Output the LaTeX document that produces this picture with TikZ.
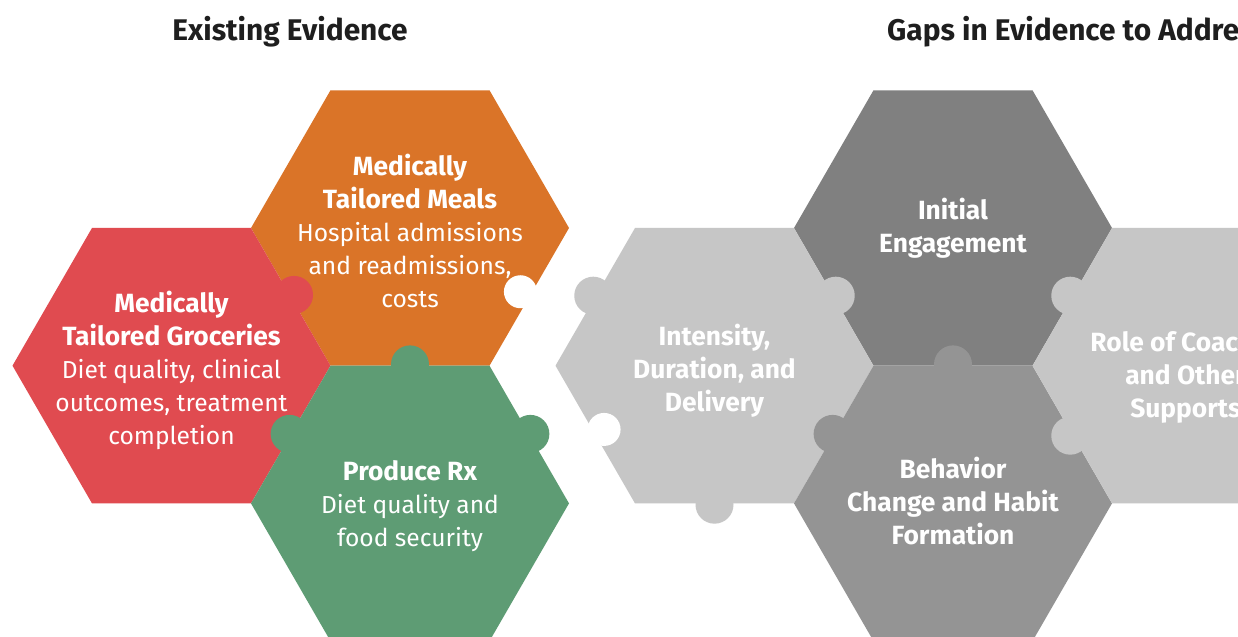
\documentclass[tikz,border=0pt]{standalone}
\usepackage{fontspec}
\setmainfont{Fira Sans}
\usepackage{tikz}
\usetikzlibrary{shapes.geometric, calc}

\definecolor{mealsorange}{HTML}{DA7428}
\definecolor{groceryred}{HTML}{E04B50}
\definecolor{producegreen}{HTML}{5E9C74}
\definecolor{gapdark}{HTML}{808080}
\definecolor{gapmid}{HTML}{949494}
\definecolor{gaplight}{HTML}{C6C6C6}
\definecolor{titleblack}{HTML}{1E1E1E}

\newcommand{\hexhead}[1]{{\fontsize{15}{18.8}\selectfont\bfseries #1}}

\tikzstyle{hexa} = [regular polygon, regular polygon sides=6, minimum size=6.36cm, inner sep=0pt, outer sep=0pt, draw=none]
\tikzstyle{hextext} = [text=white, align=center, font=\fontsize{14}{18.8}\selectfont]
\tikzstyle{gaptext} = [text=white, align=center, font=\fontsize{15}{18.8}\selectfont\bfseries]
\tikzstyle{title} = [text=titleblack, font=\fontsize{17}{20}\selectfont\bfseries]
\tikzstyle{knob} = [circle, minimum size=0.76cm, inner sep=0pt, outer sep=0pt, draw=none]
\tikzstyle{hole} = [circle, minimum size=0.66cm, inner sep=0pt, outer sep=0pt, draw=none, fill=white]

\begin{document}
\begin{tikzpicture}
			\path[use as bounding box, fill=white] (0,0) rectangle (24.76,12.74);

			\node(existtitle)[title] at (5.8,12.1) {Existing Evidence};
			\node(gapstitle)[title, anchor=west] at (17.62,12.1) {Gaps in Evidence to Address};

			% existing evidence
			\node(meals)[hexa, fill=mealsorange] at (8.2,8.18) {};
			\node(groceries)[hexa, fill=groceryred] at ($(meals.center)+(210:5.508)$) {};
			\node(produce)[hexa, fill=producegreen] at ($(meals.center)+(270:5.508)$) {};

			% gaps in evidence
			\node(engage)[hexa, fill=gapdark] at (19.06,8.18) {};
			\node(intensity)[hexa, fill=gaplight] at ($(engage.center)+(210:5.508)$) {};
			\node(behavior)[hexa, fill=gapmid] at ($(engage.center)+(270:5.508)$) {};
			\node(coach)[hexa, fill=gaplight] at ($(engage.center)+(330:5.508)$) {};

			% puzzle knobs and holes
			\node(groceriesknob)[knob, fill=groceryred] at ($(groceries.center)+(30:2.83)$) {};
			\node(produceknobA)[knob, fill=producegreen] at ($(produce.center)+(90:2.78)$) {};
			\node(produceknobB)[knob, fill=producegreen] at ($(produce.center)+(150:2.78)$) {};
			\node(produceknobC)[knob, fill=producegreen] at ($(produce.center)+(30:2.78)$) {};
			\node(mealshole)[hole] at ($(meals.center)+(330:2.55)$) {};
			\node(intensityknobA)[knob, fill=gaplight] at ($(intensity.center)+(150:2.8)$) {};
			\node(intensityknobB)[knob, fill=gaplight] at ($(intensity.center)+(30:2.8)$) {};
			\node(intensityknobC)[knob, fill=gaplight] at ($(intensity.center)+(270:2.78)$) {};
			\node(intensityhole)[hole] at ($(intensity.center)+(210:2.55)$) {};
			\node(behaviorknobA)[knob, fill=gapmid] at ($(behavior.center)+(90:2.78)$) {};
			\node(behaviorknobB)[knob, fill=gapmid] at ($(behavior.center)+(150:2.78)$) {};
			\node(coachknobA)[knob, fill=gaplight] at ($(coach.center)+(150:2.8)$) {};
			\node(coachknobB)[knob, fill=gaplight] at ($(coach.center)+(210:2.8)$) {};

			% Labels
			\node(mealstext)[hextext] at ($(meals.center)+(0,-0.06)$) {\hexhead{Medically}\\\hexhead{Tailored Meals}\\Hospital admissions\\and readmissions,\\costs};
			\node(groceriestext)[hextext] at ($(groceries.center)+(0,-0.1)$) {\hexhead{Medically}\\\hexhead{Tailored Groceries}\\Diet quality, clinical\\outcomes, treatment\\completion};
			\node(producetext)[hextext] at ($(produce.center)+(0,-0.06)$) {\hexhead{Produce Rx}\\Diet quality and\\food security};
			\node(engagetext)[gaptext] at (engage.center) {Initial\\Engagement};
			\node(intensitytext)[gaptext] at ($(intensity.center)+(0,-0.1)$) {Intensity,\\Duration, and\\Delivery};
			\node(behaviortext)[gaptext] at ($(behavior.center)+(0,0.04)$) {Behavior\\Change and Habit\\Formation};
			\node(coachtext)[gaptext] at ($(coach.center)+(-0.12,-0.24)$) {Role of Coaches\\and Other\\Supports};
		\end{tikzpicture}
\end{document}
